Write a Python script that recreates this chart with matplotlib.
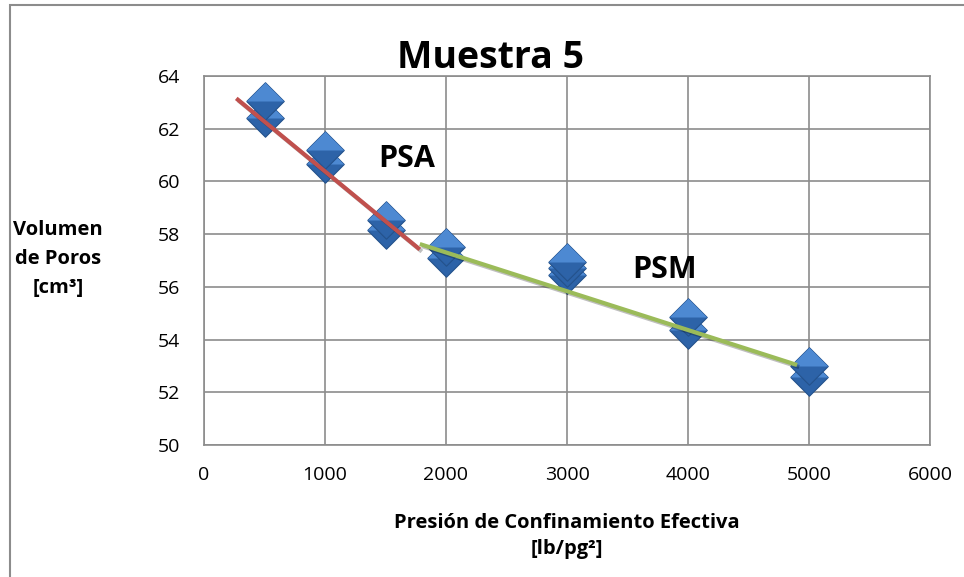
import numpy as np
import matplotlib.pyplot as plt
from matplotlib.path import Path
from matplotlib.patches import Rectangle
import matplotlib.patheffects as pe

plt.rcParams['font.family'] = ['Open Sans', 'DejaVu Sans']

# datos
presion = [500, 500, 1000, 1000, 1500, 1500, 2000, 2000,
           3000, 3000, 3000, 4000, 4000, 5000, 5000]
volumen = [62.4, 63.06, 60.68, 61.2, 58.15, 58.53, 57.1, 57.5,
           56.45, 56.72, 56.94, 54.38, 54.87, 52.57, 52.98]

# lineas de tendencia (extremos)
psa_x = [280, 1770]
psa_y = [63.1, 57.47]
psm_x = [1800, 4885]
psm_y = [57.6, 53.06]

W, H = 964, 577
fig = plt.figure(figsize=(W/100, H/100), dpi=100)
ax = fig.add_axes([204/W, 1-445/H, (930-204)/W, (445-76)/H])

diamante = Path([(-1, 0), (0, 1), (1, 0), (0, -1), (-1, 0)])
# mitad superior (el MOVETO final mantiene la misma escala que el diamante)
mitad_sup = Path(np.array([(-1, 0), (0, 1), (1, 0), (-1, 0), (0, -1)]),
                 [Path.MOVETO, Path.LINETO, Path.LINETO, Path.LINETO, Path.MOVETO])

for x, y in zip(presion, volumen):
    ax.plot(x, y, marker=diamante, ms=27, color='#2d63a8', mec='#24528c',
            mew=0.8, ls='none', zorder=3)
    ax.plot(x, y, marker=mitad_sup, ms=27, color='#4d89d2', mec='none',
            ls='none', zorder=3)

sombra = [pe.SimpleLineShadow(offset=(1.5, -1.5), alpha=0.25), pe.Normal()]
ax.plot(psa_x, psa_y, color='#c0504d', lw=3, zorder=4, path_effects=sombra)
ax.plot(psm_x, psm_y, color='#9bbb59', lw=3, zorder=4, path_effects=sombra)

ax.set_xlim(0, 6000)
ax.set_ylim(50, 64)
ax.set_xticks(range(0, 6001, 1000))
ax.set_yticks(range(50, 65, 2))
ax.grid(True, color='#8c8c8c', lw=1.2)
ax.set_axisbelow(True)
for s in ax.spines.values():
    s.set_color('#8c8c8c')
    s.set_linewidth(1.2)
ax.tick_params(length=0, labelsize=14)
ax.tick_params(axis='y', pad=17)
ax.tick_params(axis='x', pad=15)

fig.text(491/W, 1-68/H, 'Muestra 5', ha='center', va='baseline',
         fontsize=27, fontweight='bold')
ax.text(1438, 60.55, 'PSA', fontsize=22, fontweight='bold', va='baseline')
ax.text(3537, 56.34, 'PSM', fontsize=22, fontweight='bold', va='baseline')

fig.text(58/W, 1-259/H, 'Volumen\nde Poros\n[cm³]', ha='center',
         va='center', fontsize=14.5, fontweight='bold', linespacing=1.6)
fig.text(567/W, 1-536/H, 'Presión de Confinamiento Efectiva\n[lb/pg²]',
         ha='center', va='center', fontsize=14.5, fontweight='bold',
         linespacing=1.45)

fig.patches.append(Rectangle((10/W, -0.05), 1.0, 1.05 - 5/H,
                             transform=fig.transFigure, fill=False,
                             ec='#8c8c8c', lw=1.5))

fig.savefig('out.png', dpi=100)
